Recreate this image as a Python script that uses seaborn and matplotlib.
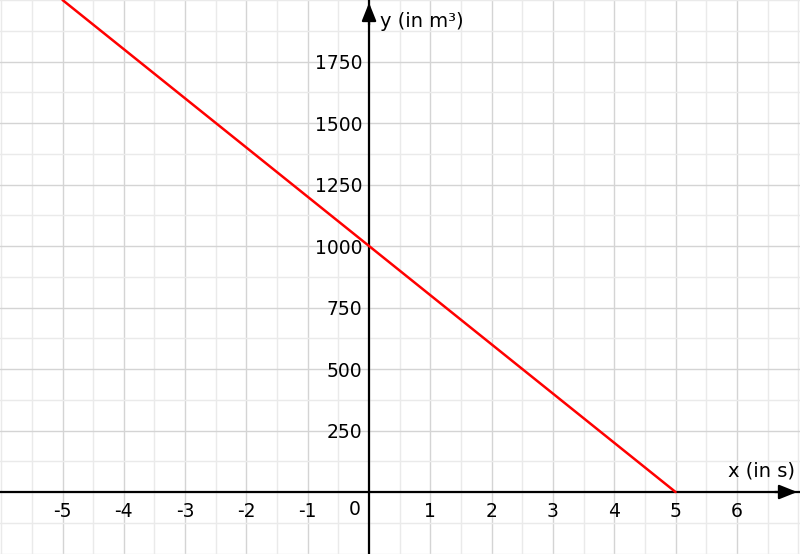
import matplotlib
matplotlib.use("Agg")
import matplotlib.pyplot as plt
import seaborn as sns
import pandas as pd
import numpy as np
from matplotlib.ticker import MultipleLocator

# data
x_vals = [-5, 5]
y_vals = [2000, 0]
x_ticks = [-5, -4, -3, -2, -1, 1, 2, 3, 4, 5, 6]
y_ticks = [250, 500, 750, 1000, 1250, 1500, 1750]
x_label = "x (in s)"
y_label = "y (in m³)"

sns.set_style("white")
plt.rcParams['font.family'] = ['DejaVu Sans']
plt.rcParams['text.color'] = 'black'

fig = plt.figure(figsize=(8, 5.54), dpi=100)
ax = fig.add_axes([0, 0, 1, 1])

df = pd.DataFrame({"x": x_vals, "y": y_vals})
sns.lineplot(data=df, x="x", y="y", ax=ax, color="#ff0000", lw=1.8, zorder=5)

ax.set_xlim(-6.02, 7.03)
ax.set_ylim(-252, 2000)

ax.xaxis.set_minor_locator(MultipleLocator(0.5))
ax.yaxis.set_minor_locator(MultipleLocator(125))
ax.set_xticks(x_ticks)
ax.set_yticks(y_ticks)
ax.set_xticklabels([str(v) for v in x_ticks])
ax.set_yticklabels([str(v) for v in y_ticks])

ax.grid(True, which="major", color="#d4d4d4", lw=1.0)
ax.grid(True, which="minor", color="#eaeaea", lw=1.0)
ax.set_axisbelow(True)

for s in ["top", "right"]:
    ax.spines[s].set_visible(False)
ax.spines["left"].set_position(("data", 0))
ax.spines["bottom"].set_position(("data", 0))
for s in ["left", "bottom"]:
    ax.spines[s].set_linewidth(1.6)
    ax.spines[s].set_color("black")
    ax.spines[s].set_zorder(4)

ax.tick_params(axis="both", which="major", direction="inout", length=8, width=1.6,
               labelsize=13.5, colors="black")
ax.tick_params(axis="x", pad=3)
ax.tick_params(axis="y", pad=1)
ax.tick_params(which="minor", length=0)
ax.set_xlabel("")
ax.set_ylabel("")

# arrows
arrow_style = '-|>,head_length=0.5,head_width=0.2'
ax.annotate('', xy=(1.0, 0), xytext=(0.965, 0), xycoords=('axes fraction', 'data'),
            textcoords=('axes fraction', 'data'),
            arrowprops=dict(arrowstyle=arrow_style, color='black', lw=1.6, mutation_scale=22))
ax.annotate('', xy=(0, 1.0), xytext=(0, 0.95), xycoords=('data', 'axes fraction'),
            textcoords=('data', 'axes fraction'),
            arrowprops=dict(arrowstyle=arrow_style, color='black', lw=1.6, mutation_scale=22))

ax.text(-0.23, -73, "0", ha="center", va="center", fontsize=13.5, color="black")
ax.text(0.18, 1912, y_label, ha="left", va="center", fontsize=14, color="black")
ax.text(5.85, 85, x_label, ha="left", va="center", fontsize=14, color="black")

fig.savefig("out.png", dpi=100)
